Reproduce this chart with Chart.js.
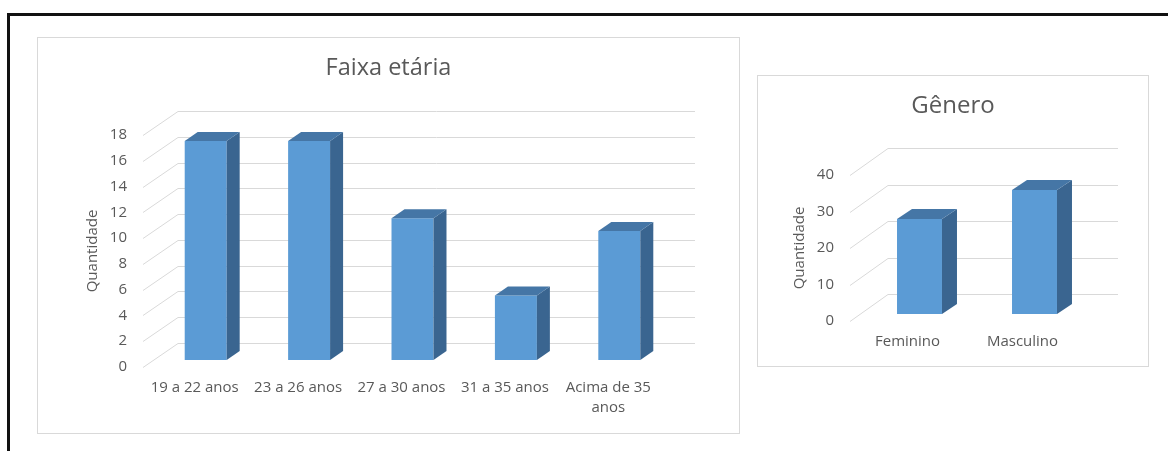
<!DOCTYPE html>
<html>
<head>
<meta charset="utf-8">
<script src="https://cdn.jsdelivr.net/npm/chart.js@4.4.1/dist/chart.umd.min.js"></script>
<style>
  html, body { margin: 0; padding: 0; background: #fff; }
  body { width: 1168px; height: 451px; overflow: hidden; position: relative; }
  .moldura { position: absolute; left: 7px; top: 13px; width: 1200px; height: 500px;
    border-top: 3px solid #111; border-left: 3px solid #111; }
  .painel { position: absolute; box-sizing: border-box; border: 1px solid #d9d9d9; background: #fff; }
  #painelFaixa { left: 37px; top: 37px; width: 703px; height: 397px; }
  #painelGenero { left: 757px; top: 75px; width: 392px; height: 292px; }
  canvas { display: block; }
</style>
</head>
<body>
<div class="moldura"></div>
<div class="painel" id="painelFaixa"><canvas id="graficoFaixa" width="701" height="395"></canvas></div>
<div class="painel" id="painelGenero"><canvas id="graficoGenero" width="390" height="290"></canvas></div>

<script>
const faixaLabels = ['19 a 22 anos', '23 a 26 anos', '27 a 30 anos', '31 a 35 anos', ['Acima de 35', 'anos']];
const faixaValores = [17, 17, 11, 5, 10];

const generoLabels = ['Feminino', 'Masculino'];
const generoValores = [26, 34];

const corTexto = '#595959';
const fonte = "'Open Sans', 'Liberation Sans', sans-serif";

// efeito 3D estilo Excel: grade com profundidade + faces laterais e de topo
const barras3D = {
  id: 'barras3D',
  beforeDatasetsDraw(chart, args, opts) {
    const { ctx, chartArea } = chart;
    const y = chart.scales.y;
    ctx.save();
    ctx.strokeStyle = '#d9d9d9';
    ctx.lineWidth = 1;
    y.ticks.forEach(t => {
      const py = Math.round(y.getPixelForValue(t.value)) + 0.5;
      ctx.beginPath();
      ctx.moveTo(chartArea.left, py);
      ctx.lineTo(chartArea.left + opts.fundo[0], py + opts.fundo[1]);
      ctx.lineTo(chartArea.right + opts.fundo[0], py + opts.fundo[1]);
      ctx.stroke();
    });
    ctx.restore();
    ctx.save();
    ctx.translate(opts.desloc[0], opts.desloc[1]);
  },
  afterDatasetsDraw(chart, args, opts) {
    const { ctx } = chart;
    ctx.restore();
    const [ox, oy] = opts.desloc;
    const [bx, by] = opts.prof;
    chart.getDatasetMeta(0).data.forEach(bar => {
      const l = bar.x - bar.width / 2 + ox;
      const r = bar.x + bar.width / 2 + ox;
      const t = bar.y + oy;
      const b = bar.base + oy;
      ctx.fillStyle = '#3a6590';
      ctx.beginPath();
      ctx.moveTo(r, t); ctx.lineTo(r + bx, t + by); ctx.lineTo(r + bx, b + by); ctx.lineTo(r, b);
      ctx.closePath(); ctx.fill();
      ctx.fillStyle = '#4576a6';
      ctx.beginPath();
      ctx.moveTo(l, t); ctx.lineTo(l + bx, t + by); ctx.lineTo(r + bx, t + by); ctx.lineTo(r, t);
      ctx.closePath(); ctx.fill();
    });
  }
};

function criarGrafico(id, labels, valores, cfg) {
  return new Chart(document.getElementById(id), {
    type: 'bar',
    data: {
      labels: labels,
      datasets: [{
        data: valores,
        backgroundColor: '#5b9bd5',
        borderWidth: 0,
        categoryPercentage: 1,
        barPercentage: cfg.barra,
        clip: false
      }]
    },
    options: {
      responsive: false,
      animation: false,
      layout: { padding: 0 },
      scales: {
        x: {
          grid: { display: false, drawTicks: false },
          border: { display: false },
          ticks: { color: corTexto, padding: 11, maxRotation: 0, autoSkip: false,
                   font: { family: fonte, size: 15, lineHeight: 1.333 } },
          afterFit: s => { s.height = cfg.altX; }
        },
        y: {
          min: 0,
          max: cfg.max,
          grid: { display: false, drawTicks: false },
          border: { display: false },
          ticks: { stepSize: cfg.passo, color: corTexto, padding: 16, font: { family: fonte, size: 15 } },
          title: { display: true, text: 'Quantidade', color: corTexto,
                   padding: { top: cfg.tituloY, bottom: 0 }, font: { family: fonte, size: 15 } },
          afterFit: s => { s.width = cfg.largY; }
        },
        // eixo vazio só para reservar o espaço à direita (mantém o título centrado no painel)
        margemDir: {
          type: 'linear',
          position: 'right',
          grid: { display: false, drawTicks: false },
          border: { display: false },
          ticks: { display: false },
          afterFit: s => { s.width = cfg.direita; }
        }
      },
      plugins: {
        legend: { display: false },
        tooltip: { enabled: false },
        title: {
          display: true,
          text: cfg.titulo,
          color: corTexto,
          font: { family: fonte, size: cfg.tamTitulo, weight: 'normal', lineHeight: 1.2 },
          padding: { top: cfg.tituloTopo, bottom: cfg.tituloBaixo }
        },
        barras3D: { fundo: cfg.fundo, desloc: cfg.desloc, prof: cfg.prof }
      }
    },
    plugins: [barras3D]
  });
}

criarGrafico('graficoFaixa', faixaLabels, faixaValores, {
  titulo: 'Faixa etária', tamTitulo: 23.5, tituloTopo: 15.9, tituloBaixo: 52.9,
  max: 18, passo: 2, barra: 0.406, direita: 79, altX: 66, largY: 105, tituloY: 46,
  fundo: [35, -24], desloc: [11, -7], prof: [13, -9]
});

criarGrafico('graficoGenero', generoLabels, generoValores, {
  titulo: 'Gênero', tamTitulo: 24, tituloTopo: 15.3, tituloBaixo: 54.9,
  max: 40, passo: 10, barra: 0.391, direita: 68, altX: 45, largY: 92, tituloY: 32.5,
  fundo: [38, -27], desloc: [12, -7], prof: [15, -10]
});
</script>
</body>
</html>
